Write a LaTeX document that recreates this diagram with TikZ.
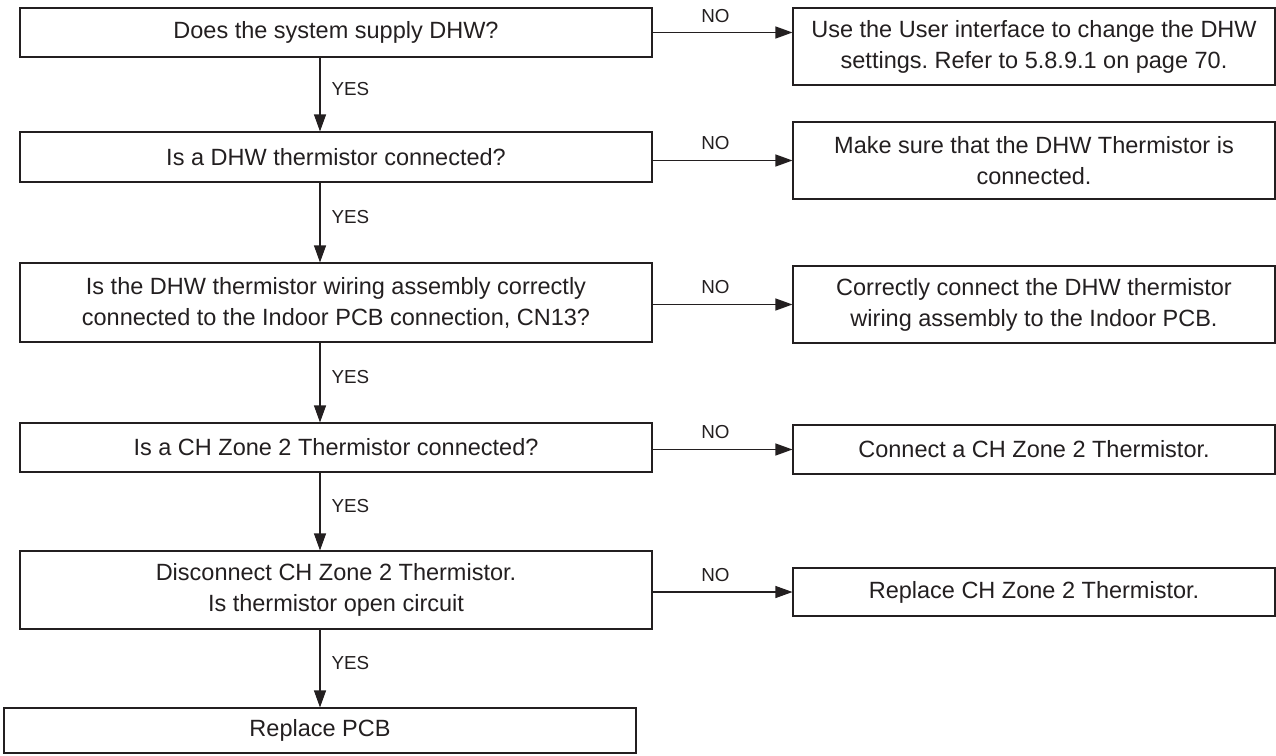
\documentclass[tikz,border=0pt]{standalone}
\usepackage{fontspec}
\setmainfont{Liberation Sans}
\usetikzlibrary{arrows.meta}
\definecolor{ink}{HTML}{231F20}
\frenchspacing
\tikzset{
  box/.style={draw=ink, line width=1.1pt, rectangle, align=center, inner sep=0pt,
    font=\fontsize{23.5pt}{31pt}\selectfont\frenchspacing, text=ink},
  lbox/.style={box, minimum width=632pt},
  rbox/.style={box, minimum width=482pt},
  arr/.style={draw=ink, line width=1.1pt, -{Triangle[length=17pt,width=12pt]}},
  lab/.style={font=\fontsize{18.8pt}{22pt}\selectfont, text=ink, inner sep=0pt}
}
\begin{document}
\begin{tikzpicture}[x=1pt,y=1pt]
\useasboundingbox (0,0) rectangle (1276,-755);
% left column
\node[lbox, minimum height=49pt] (L1) at (336,-32.5) {Does the system supply DHW?};
\node[lbox, minimum height=50pt] (L2) at (336,-157) {Is a DHW thermistor connected?};
\node[lbox, minimum height=79pt] (L3) at (336,-302.5) {Is the DHW thermistor wiring assembly correctly\\connected to the Indoor PCB connection, CN13?};
\node[lbox, minimum height=49pt] (L4) at (336,-447.5) {Is a CH Zone 2 Thermistor connected?};
\node[lbox, minimum height=78pt] (L5) at (336,-590) {Disconnect CH Zone 2 Thermistor.\\Is thermistor open circuit};
\node[lbox, minimum height=45pt] (L6) at (320,-730.5) {Replace PCB};
% right column
\node[rbox, minimum height=77pt] (R1) at (1034,-46.5) {Use the User interface to change the DHW\\settings. Refer to 5.8.9.1 on page 70.};
\node[rbox, minimum height=77pt] (R2) at (1034,-160.5) {Make sure that the DHW Thermistor is\\connected.};
\node[rbox, minimum height=77pt] (R3) at (1034,-304.5) {Correctly connect the DHW thermistor\\wiring assembly to the Indoor PCB.};
\node[rbox, minimum height=49pt] (R4) at (1034,-449.5) {Connect a CH Zone 2 Thermistor.};
\node[rbox, minimum height=48pt] (R5) at (1034,-592) {Replace CH Zone 2 Thermistor.};
\coordinate (spine) at (320,0);
% YES arrows
\foreach \a/\b in {L1/L2,L2/L3,L3/L4,L4/L5,L5/L6}{
  \draw[arr] (\a.south -| spine) -- node[lab, pos=0.43, anchor=west, xshift=11pt] {YES} (\b.north -| spine);
}
% NO arrows
\draw[arr] (L1.east) -- node[lab, pos=0.45, above=9pt] {NO} (L1.east -| R1.west);
\foreach \a/\b in {L2/R2,L3/R3,L4/R4,L5/R5}{
  \draw[arr] (\a.east |- \b.west) -- node[lab, pos=0.45, above=10pt] {NO} (\b.west);
}
\end{tikzpicture}
\end{document}
